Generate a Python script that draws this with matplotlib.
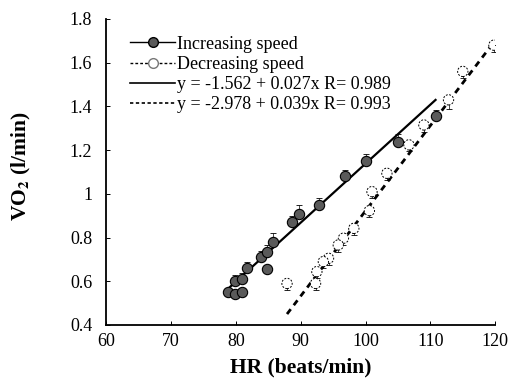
"""
VO2 vs heart rate during increasing and decreasing treadmill speed.
"""

import matplotlib
matplotlib.use("Agg")
import matplotlib.pyplot as plt
from matplotlib.lines import Line2D
import numpy as np

plt.rcParams["font.family"] = "Liberation Serif"
plt.rcParams["mathtext.fontset"] = "stix"

# increasing speed (filled circles)
inc_hr = [78.8, 79.9, 80.9, 79.9, 80.9, 81.7, 84.8, 83.9, 84.8, 85.8,
          88.7, 89.8, 92.8, 96.9, 100.0, 105.0, 110.8]
inc_vo2 = [0.55, 0.54, 0.55, 0.60, 0.61, 0.66, 0.655, 0.71, 0.735, 0.78,
           0.87, 0.91, 0.95, 1.08, 1.15, 1.235, 1.355]
inc_err = [0.02, 0.02, 0.02, 0.03, 0.03, 0.03, 0.02, 0.03, 0.03, 0.04,
           0.03, 0.04, 0.03, 0.03, 0.03, 0.04, 0.03]

# decreasing speed (open circles)
dec_hr = [119.8, 115.0, 112.8, 109.0, 106.7, 103.3, 101.0, 100.6, 98.2, 96.6,
          95.8, 94.3, 93.5, 92.5, 92.3, 87.9]
dec_vo2 = [1.68, 1.56, 1.43, 1.315, 1.224, 1.094, 1.01, 0.923, 0.842, 0.797,
           0.766, 0.705, 0.69, 0.644, 0.59, 0.59]
dec_err = [0.03, 0.03, 0.04, 0.03, 0.03, 0.03, 0.03, 0.03, 0.03, 0.03,
           0.03, 0.03, 0.03, 0.03, 0.03, 0.03]

# regression lines: intercept, slope, R
inc_fit = (-1.562, 0.027, 0.989)
dec_fit = (-2.978, 0.039, 0.993)

fig = plt.figure(figsize=(5.10, 3.79), dpi=100)
ax = fig.add_axes([0.208, 0.1425, 0.763, 0.8075])

# regression lines over each data range
xs = np.array([min(inc_hr), max(inc_hr)])
ax.plot(xs, inc_fit[0] + inc_fit[1] * xs, color="black", lw=1.6, zorder=2)
xs = np.array([min(dec_hr), max(dec_hr)])
ax.plot(xs, dec_fit[0] + dec_fit[1] * xs, color="black", lw=2.0,
        dashes=(2.2, 1.8), zorder=2)

# one-sided error bars
ax.errorbar(inc_hr, inc_vo2, yerr=[np.zeros(len(inc_err)), inc_err], fmt="none",
            ecolor="black", elinewidth=0.5, capsize=2, capthick=0.6, zorder=1)
ax.errorbar(dec_hr, dec_vo2, yerr=[dec_err, np.zeros(len(dec_err))], fmt="none",
            ecolor="black", elinewidth=0.5, capsize=2, capthick=0.6, zorder=1)

ax.scatter(inc_hr, inc_vo2, s=55, facecolors="#5a5a5a", edgecolors="black",
           linewidths=0.8, zorder=3)
ax.scatter(dec_hr, dec_vo2, s=55, facecolors="white", edgecolors="black",
           linewidths=0.7, linestyles=(0, (2, 1.5)), zorder=3)

ax.set_xlim(60, 120)
ax.set_ylim(0.4, 1.8)
ax.set_xticks(range(60, 121, 10))
ax.set_yticks([0.4, 0.6, 0.8, 1.0, 1.2, 1.4, 1.6, 1.8])
ax.set_yticklabels(["0.4", "0.6", "0.8", "1", "1.2", "1.4", "1.6", "1.8"])
ax.tick_params(direction="in", length=3, width=0.7, labelsize=13)
ax.tick_params(axis="x", pad=6)
ax.tick_params(axis="y", pad=10)
ax.spines["top"].set_visible(False)
ax.spines["right"].set_visible(False)
ax.spines["left"].set_linewidth(1.3)
ax.spines["bottom"].set_linewidth(1.3)

ax.set_xlabel("HR (beats/min)", fontsize=15.5, fontweight="bold", labelpad=5)
ax.set_ylabel(r"VO$_{\mathbf{2}}$ (l/min)", fontsize=15.5, fontweight="bold")
ax.yaxis.set_label_coords(-0.188, 0.52)

handles = [
    Line2D([], [], color="black", lw=1.0, marker="o", markersize=7,
           markerfacecolor="#5a5a5a", markeredgecolor="black"),
    Line2D([], [], color="black", lw=1.0, ls=(0, (2, 1.5)), marker="o", markersize=7,
           markerfacecolor="white", markeredgecolor="#777777"),
    Line2D([], [], color="black", lw=1.2),
    Line2D([], [], color="black", lw=1.2, ls=(0, (2, 1.5))),
]
labels = [
    "Increasing speed",
    "Decreasing speed",
    f"y = {inc_fit[0]} + {inc_fit[1]}x R= {inc_fit[2]}",
    f"y = {dec_fit[0]} + {dec_fit[1]}x R= {dec_fit[2]}",
]
ax.legend(handles, labels, loc="upper left", bbox_to_anchor=(0.062, 0.945),
          frameon=False, fontsize=13, handlelength=2.5, handletextpad=0.1,
          labelspacing=0.17, borderpad=0, borderaxespad=0)

fig.savefig("out.png", dpi=100)
